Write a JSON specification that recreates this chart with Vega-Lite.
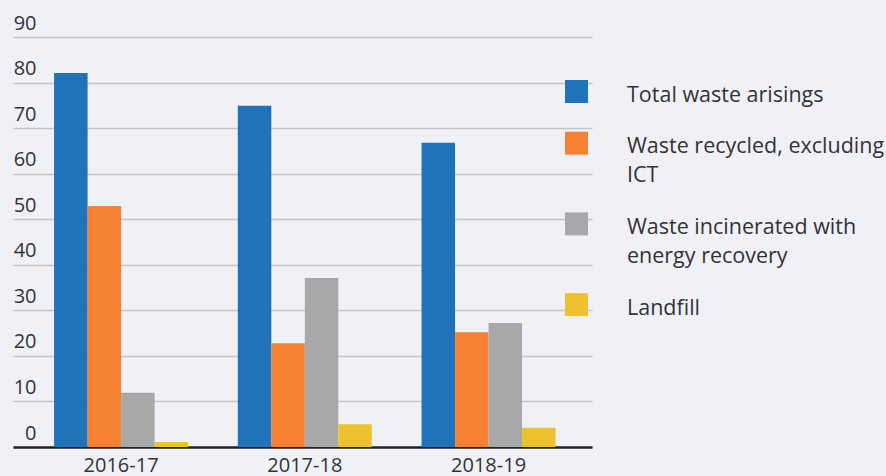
{
  "$schema": "https://vega.github.io/schema/vega-lite/v6.json",
  "width": 579,
  "height": 410,
  "autosize": "none",
  "padding": {"left": 13, "top": 37, "right": 294, "bottom": 29},
  "background": "#f0f1f7",
  "data": {
    "values": [
      {"year": "2016-17", "type": "Total waste arisings", "value": 82.1},
      {"year": "2016-17", "type": "Waste recycled, excluding ICT", "value": 52.9},
      {"year": "2016-17", "type": "Waste incinerated with energy recovery", "value": 11.9},
      {"year": "2016-17", "type": "Landfill", "value": 1.1},
      {"year": "2017-18", "type": "Total waste arisings", "value": 74.9},
      {"year": "2017-18", "type": "Waste recycled, excluding ICT", "value": 22.8},
      {"year": "2017-18", "type": "Waste incinerated with energy recovery", "value": 37.1},
      {"year": "2017-18", "type": "Landfill", "value": 5.0},
      {"year": "2018-19", "type": "Total waste arisings", "value": 66.8},
      {"year": "2018-19", "type": "Waste recycled, excluding ICT", "value": 25.2},
      {"year": "2018-19", "type": "Waste incinerated with energy recovery", "value": 27.2},
      {"year": "2018-19", "type": "Landfill", "value": 4.2}
    ]
  },
  "mark": {"type": "bar"},
  "encoding": {
    "x": {
      "field": "year",
      "type": "nominal",
      "title": null,
      "scale": {"paddingInner": 0.2706, "paddingOuter": 0.211, "align": 0.53},
      "axis": {
        "labelAngle": 0,
        "labelFontSize": 20,
        "labelColor": "#333333",
        "labelPadding": 15,
        "ticks": false,
        "domainColor": "#222222",
        "domainWidth": 2.5,
        "grid": false
      }
    },
    "xOffset": {
      "field": "type",
      "type": "nominal",
      "sort": ["Total waste arisings", "Waste recycled, excluding ICT", "Waste incinerated with energy recovery", "Landfill"],
      "scale": {"paddingInner": 0, "paddingOuter": 0}
    },
    "y": {
      "field": "value",
      "type": "quantitative",
      "title": null,
      "scale": {"domain": [0, 90], "nice": false},
      "axis": {
        "values": [0, 10, 20, 30, 40, 50, 60, 70, 80, 90],
        "domain": false,
        "ticks": false,
        "tickSize": 0,
        "labelAlign": "right",
        "labelBaseline": "alphabetic",
        "labelPadding": -23,
        "labelOffset": -1,
        "labelFontSize": 20,
        "labelColor": "#333333",
        "gridColor": "#c4c5cb",
        "gridWidth": 1.5
      }
    },
    "color": {
      "field": "type",
      "type": "nominal",
      "sort": ["Total waste arisings", "Waste recycled, excluding ICT", "Waste incinerated with energy recovery", "Landfill"],
      "scale": {
        "domain": ["Total waste arisings", "Waste recycled, excluding ICT", "Waste incinerated with energy recovery", "Landfill"],
        "range": ["#2072b9", "#f58233", "#a8a8a8", "#eec22f"]
      },
      "legend": {
        "title": null,
        "orient": "none",
        "legendX": 552,
        "legendY": 43,
        "symbolType": "square",
        "symbolSize": 529,
        "symbolStrokeWidth": 0,
        "symbolOpacity": 1,
        "labelFontSize": 21.5,
        "labelColor": "#333333",
        "labelOffset": 39,
        "labelLimit": 400,
        "labelBaseline": "top",
        "rowPadding": 25.7,
        "labelExpr": "datum.label == 'Waste recycled, excluding ICT' ? ['Waste recycled, excluding', 'ICT'] : datum.label == 'Waste incinerated with energy recovery' ? ['Waste incinerated with', 'energy recovery'] : datum.label"
      }
    }
  },
  "config": {
    "font": "Open Sans",
    "view": {"stroke": null},
    "style": {"guide-label": {"lineHeight": 29, "dy": -7}}
  }
}
